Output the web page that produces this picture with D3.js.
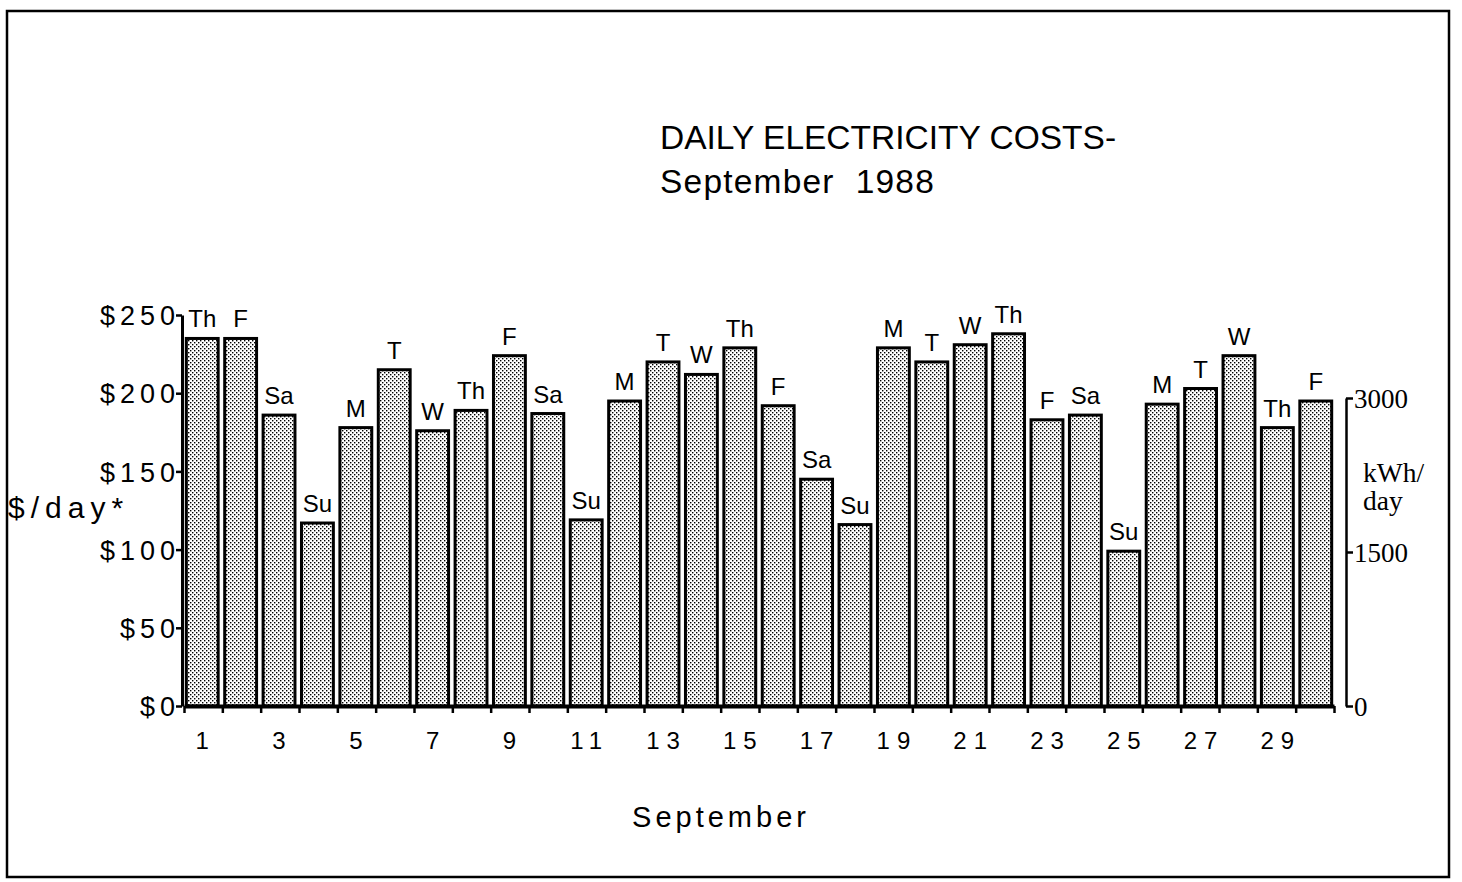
<!DOCTYPE html>
<html><head><meta charset="utf-8">
<script src="https://cdn.jsdelivr.net/npm/d3@7"></script>
<style>
body{margin:0;background:#fff;}
svg{display:block;}
</style></head><body>
<svg id="chart" width="1462" height="882"></svg>
<script>
// ---- data ----
const days = d3.range(1, 31);
const weekdays = ["Th","F","Sa","Su","M","T","W","Th","F","Sa","Su","M","T","W","Th","F","Sa","Su","M","T","W","Th","F","Sa","Su","M","T","W","Th","F"];
const costs = [235,235,186,117,178,215,176,189,224,187,119,195,220,212,229,192,145,116,229,220,231,238,183,186,99,193,203,224,178,195];
const costTicks = [0,50,100,150,200,250];
const kwhTicks = [0,1500,3000];
const dayTickLabels = [1,3,5,7,9,11,13,15,17,19,21,23,25,27,29];
const titleLines = ["DAILY ELECTRICITY COSTS-", "September  1988"];

// ---- layout ----
const svg = d3.select("#chart");
const SANS = "'Liberation Sans', Arial, Helvetica, sans-serif";
const SERIF = "'Liberation Serif', 'Times New Roman', serif";
const base = 706, top250 = 315;
const xL = 182, xR = 1334;

const defs = svg.append("defs");
const pat = defs.append("pattern").attr("id","stipple").attr("width",4).attr("height",4).attr("patternUnits","userSpaceOnUse");
pat.append("rect").attr("width",4).attr("height",4).attr("fill","#fff");
pat.append("rect").attr("x",0).attr("y",0).attr("width",1.4).attr("height",1.4).attr("fill","#000");
pat.append("rect").attr("x",2).attr("y",2).attr("width",1.4).attr("height",1.4).attr("fill","#000");

// frame
svg.append("rect").attr("x",7).attr("y",11).attr("width",1442).attr("height",866)
  .attr("fill","none").attr("stroke","#000").attr("stroke-width",2.5);

const x = d3.scaleBand().domain(days).range([xL + 2, xR]).paddingInner(0.17).paddingOuter(0.06);
const xEdge = d3.scaleLinear().domain([0.5, 30.5]).range([xL + 2, xR]);
const y = d3.scaleLinear().domain([0, 250]).range([base, top250]);
const yR = d3.scaleLinear().domain([0, 3000]).range([base, base - 308]);

// title
svg.append("g").selectAll("text").data(titleLines).join("text")
  .attr("x", 660).attr("y", (d,i) => 149 + i*44)
  .attr("font-family", SANS).attr("font-size", 33.5).attr("fill","#000")
  .attr("letter-spacing", (d,i) => i === 1 ? 1.2 : 0)
  .style("white-space","pre")
  .text(d => d);

// bars
svg.append("g").selectAll("rect").data(days).join("rect")
  .attr("x", d => x(d)).attr("width", x.bandwidth())
  .attr("y", (d,i) => y(costs[i])).attr("height", (d,i) => base - y(costs[i]))
  .attr("fill","url(#stipple)").attr("stroke","#000").attr("stroke-width",3);

// weekday labels
svg.append("g").selectAll("text").data(days).join("text")
  .attr("x", d => x(d) + x.bandwidth()/2)
  .attr("y", (d,i) => y(costs[i]) - 11)
  .attr("text-anchor","middle")
  .attr("font-family", SANS).attr("font-size", 24).attr("fill","#000")
  .text((d,i) => weekdays[i]);

// left axis
const gL = svg.append("g").attr("transform", `translate(${xL},0)`)
  .call(d3.axisLeft(y).tickValues(costTicks).tickSize(6).tickSizeOuter(0).tickFormat(d => "$" + d));
gL.select(".domain").attr("stroke","#000").attr("stroke-width",3);
gL.selectAll(".tick line").attr("stroke","#000").attr("stroke-width",2.5);
gL.selectAll(".tick text").attr("font-family", SANS).attr("font-size", 27)
  .attr("letter-spacing", 5).attr("fill","#000").attr("x", -2).attr("dy","0.36em");

// left axis title
svg.append("text").attr("x", 8).attr("y", 518)
  .attr("font-family", SANS).attr("font-size", 30).attr("letter-spacing", 6).attr("fill","#000")
  .text("$/day*");

// bottom axis: tick marks at bar boundaries
const gB = svg.append("g").attr("transform", `translate(0,${base})`)
  .call(d3.axisBottom(xEdge).tickValues(d3.range(0.5, 31, 1)).tickSize(7).tickSizeOuter(0).tickFormat(""));
gB.select(".domain").attr("stroke","#000").attr("stroke-width",4);
gB.selectAll(".tick line").attr("stroke","#000").attr("stroke-width",2.5);

// bottom axis labels
const gBL = svg.append("g").attr("transform", `translate(0,${base})`)
  .call(d3.axisBottom(x).tickValues(dayTickLabels).tickSize(0));
gBL.select(".domain").remove();
gBL.selectAll(".tick text").attr("font-family", SANS).attr("font-size", 24)
  .attr("letter-spacing", 7).attr("fill","#000").attr("y", 26).attr("dy","0.71em")
  .attr("dx", "3.5px");

// bottom axis title
svg.append("text").attr("x", 721).attr("y", 827).attr("text-anchor","middle")
  .attr("font-family", SANS).attr("font-size", 29).attr("letter-spacing", 4).attr("fill","#000")
  .text("September");

// right axis
const gR = svg.append("g").attr("transform", `translate(1346,0)`)
  .call(d3.axisRight(yR).tickValues(kwhTicks).tickSize(7).tickSizeOuter(0).tickFormat(d3.format("d")));
gR.select(".domain").attr("stroke","#000").attr("stroke-width",2.5);
gR.selectAll(".tick line").attr("stroke","#000").attr("stroke-width",2.5);
gR.selectAll(".tick text").attr("font-family", SERIF).attr("font-size", 27)
  .attr("fill","#000").attr("x", 8).attr("dy","0.34em");

svg.append("g").selectAll("text").data(["kWh/","day"]).join("text")
  .attr("x", 1363).attr("y", (d,i) => 482 + i*28)
  .attr("font-family", SERIF).attr("font-size", 27.5).attr("fill","#000")
  .text(d => d);
</script>
</body></html>
